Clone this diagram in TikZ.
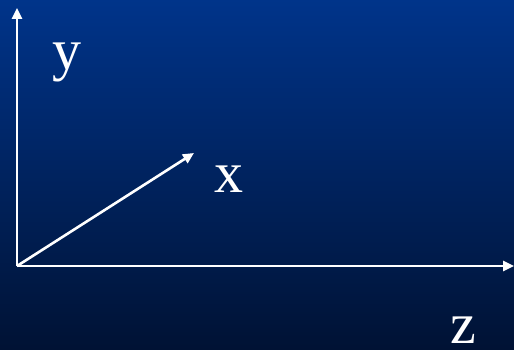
\documentclass[tikz,border=0pt]{standalone}
\usepackage{fontspec}
\setmainfont{Liberation Serif}
\usetikzlibrary{arrows.meta}
\definecolor{bgtop}{RGB}{0,52,138}
\definecolor{bgbot}{RGB}{0,18,52}
\tikzset{
  axis/.style={white, line width=2.6pt, -{Triangle[length=11pt,width=10pt]}},
  lab/.style={white, font=\fontsize{58}{58}\selectfont, inner sep=0pt}
}
\begin{document}
\begin{tikzpicture}[x=1pt,y=-1pt]
\shade[top color=bgtop, bottom color=bgbot] (0,0) rectangle (514,350);
\useasboundingbox (0,0) rectangle (514,350);
\coordinate (o) at (17,266);
\coordinate (ye) at (17,8);
\coordinate (xe) at (194,153);
\coordinate (ze) at (514,266);
\draw[axis] (o) -- (ye);
\draw[axis] (o) -- (xe);
\draw[axis] (o) -- (ze);
\node[lab, anchor=base] (ly) at (67,70) {y};
\node[lab, anchor=base] (lx) at (229,193) {x};
\node[lab, anchor=base] (lz) at (463,343) {z};
\end{tikzpicture}
\end{document}
